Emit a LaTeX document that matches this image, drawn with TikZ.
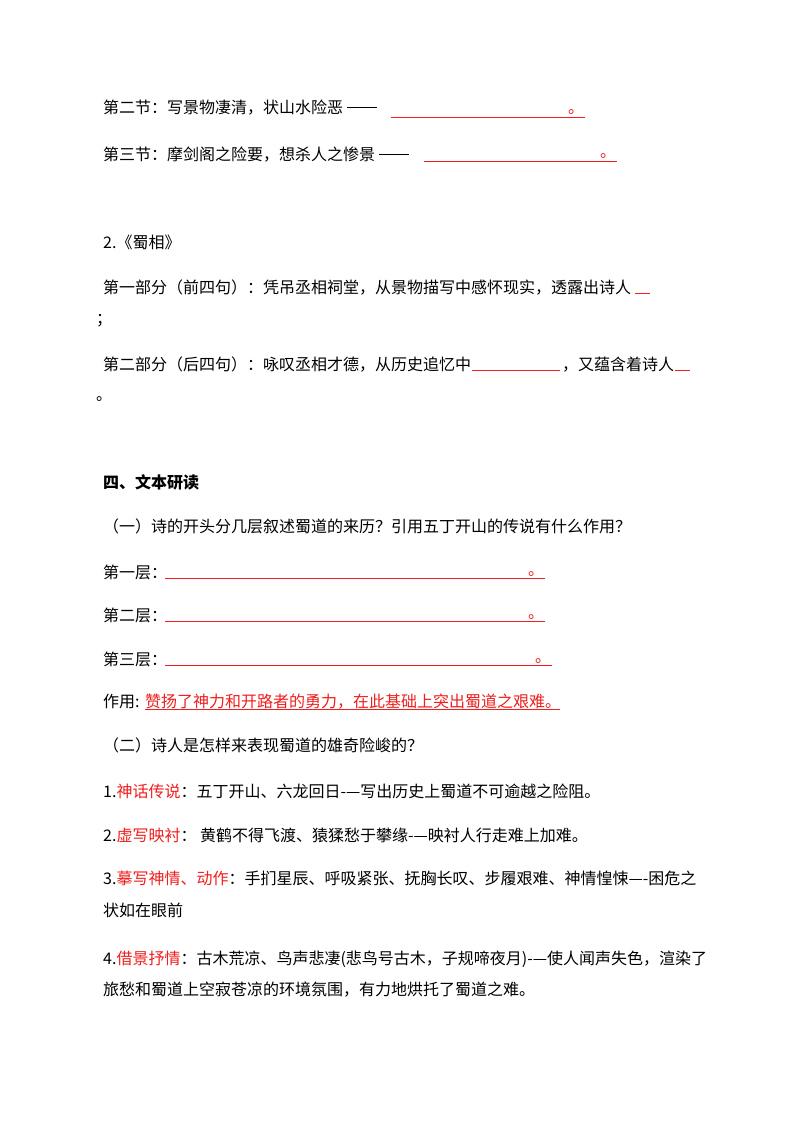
\documentclass[tikz,border=0pt]{standalone}
\usepackage{fontspec}
\setmainfont{Noto Sans CJK SC}
\definecolor{rd}{RGB}{240,30,30}
\begin{document}
\begin{tikzpicture}[x=1pt,y=-1pt,
  t/.style={anchor=base west,inner sep=0pt,font=\fontsize{16}{19}\selectfont},
  ul/.style={draw=rd,line width=1pt}]
\useasboundingbox[fill=white] (0,0) rectangle (800,1132);
\node[t] (l1) at (103,113) {第二节：写景物凄清，状山水险恶 \rule[0.32em]{1.9em}{0.6pt}};
\draw[ul] (391,117) -- (585,117); \node[t,text=rd] (d1) at (568,113) {。};
\node[t] (l2) at (103,160) {第三节：摩剑阁之险要，想杀人之惨景 \rule[0.32em]{1.9em}{0.6pt}};
\draw[ul] (424,161) -- (617,161); \node[t,text=rd] (d2) at (600,157) {。};
\node[t] (l3) at (103,248) {2.《蜀相》};
\node[t] (l4) at (103,293) {第一部分（前四句）：凭吊丞相祠堂，从景物描写中感怀现实，透露出诗人};
\draw[ul] (635,293) -- (650,293);
\node[t] (l5) at (96,324) {；};
\node[t] (l6) at (103,370) {第二部分（后四句）：咏叹丞相才德，从历史追忆中};
\draw[ul] (472,370) -- (560,370);
\node[t] (l6b) at (562,370) {，又蕴含着诗人};
\draw[ul] (675,370) -- (690,370);
\node[t] (l7) at (96,400) {。};
\node[t,font=\fontsize{16}{19}\bfseries] (h4) at (103,488) {四、文本研读};
\node[t] (q1) at (103,532) {（一）诗的开头分几层叙述蜀道的来历？引用五丁开山的传说有什么作用？};
\node[t] (c1) at (103,578) {第一层：};
\draw[ul] (165,578) -- (545,578); \node[t,text=rd] (d3) at (528,575) {。};
\node[t] (c2) at (103,621) {第二层：};
\draw[ul] (165,621) -- (545,621); \node[t,text=rd] (d4) at (528,618) {。};
\node[t] (c3) at (103,665) {第三层：};
\draw[ul] (165,665) -- (552,665); \node[t,text=rd] (d5) at (535,662) {。};
\node[t] (c4) at (103,707) {作用:};
\node[t,text=rd] (c4b) at (145,707) {赞扬了神力和开路者的勇力，在此基础上突出蜀道之艰难。};
\draw[ul] (145,709) -- (560,709);
\node[t] (q2) at (103,751) {（二）诗人是怎样来表现蜀道的雄奇险峻的？};
\node[t] (a1) at (103,797) {1.\textcolor{rd}{神话传说}：五丁开山、六龙回日-—写出历史上蜀道不可逾越之险阻。};
\node[t] (a2) at (103,841) {2.\textcolor{rd}{虚写映衬}：\ 黄鹤不得飞渡、猿猱愁于攀缘-—映衬人行走难上加难。};
\node[t] (a3) at (103,884) {3.\textcolor{rd}{摹写神情、动作}：手扪星辰、呼吸紧张、抚胸长叹、步履艰难、神情惶悚—-困危之};
\node[t] (a3b) at (103,916) {状如在眼前};
\node[t] (a4) at (103,964) {4.\textcolor{rd}{借景抒情}：古木荒凉、鸟声悲凄(悲鸟号古木，子规啼夜月)-—使人闻声失色，渲染了};
\node[t] (a4b) at (103,995) {旅愁和蜀道上空寂苍凉的环境氛围，有力地烘托了蜀道之难。};
\end{tikzpicture}
\end{document}
